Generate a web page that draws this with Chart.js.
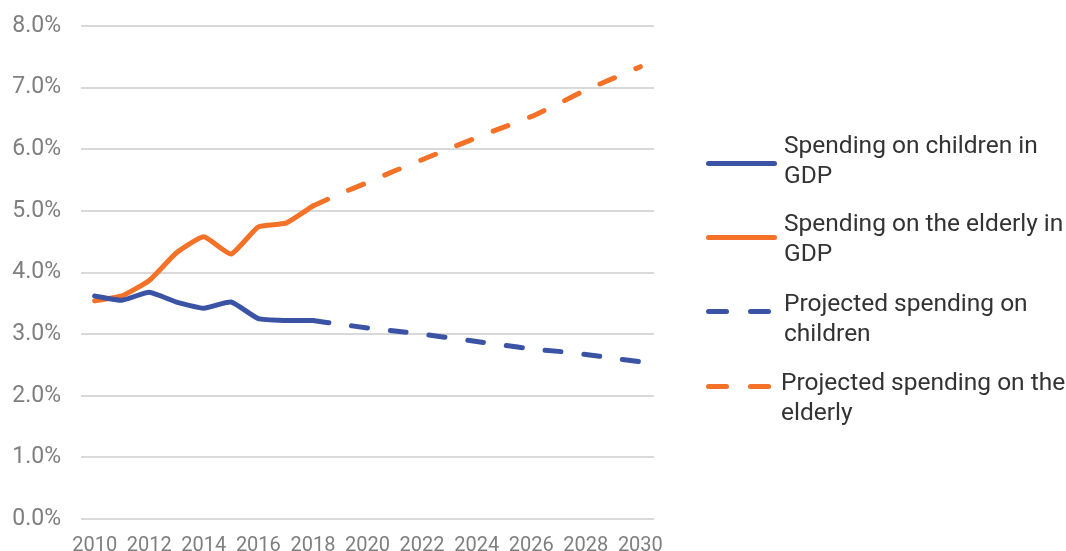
<!DOCTYPE html>
<html>
<head>
<meta charset="utf-8">
<script src="https://cdn.jsdelivr.net/npm/chart.js@4"></script>
<style>
  html, body { margin: 0; padding: 0; background: #fff; overflow: hidden; }
  body { width: 1066px; height: 551px; position: relative; font-family: Roboto, "Noto Sans", sans-serif; }
  #chart { position: absolute; left: 0; top: 0; display: block; }
  .swatch { position: absolute; height: 5px; border-radius: 3px; }
  .txt { position: absolute; font-size: 24.5px; line-height: 30px; color: #333333; white-space: nowrap; }
</style>
</head>
<body>
<canvas id="chart" width="1066" height="580"></canvas>
<div id="legend"></div>
<script>
const years = ["2010","2011","2012","2013","2014","2015","2016","2017","2018","2019","2020",
  "2021","2022","2023","2024","2025","2026","2027","2028","2029","2030"];
// 2010-2018
const childrenActual = [3.62, 3.55, 3.68, 3.52, 3.42, 3.52, 3.25, 3.22, 3.22];
const elderlyActual  = [3.54, 3.62, 3.87, 4.32, 4.58, 4.30, 4.74, 4.80, 5.08];
// 2018-2030
const childrenProjected = [3.22, 3.16, 3.10, 3.05, 3.00, 2.94, 2.88, 2.82, 2.76, 2.72, 2.67, 2.61, 2.55];
const elderlyProjected  = [5.08, 5.28, 5.46, 5.65, 5.83, 6.01, 6.19, 6.36, 6.53, 6.74, 6.96, 7.15, 7.34];
const yTicks = ["0.0%","1.0%","2.0%","3.0%","4.0%","5.0%","6.0%","7.0%","8.0%"];

const seriesNames = [
  ["Spending on children in", "GDP"],
  ["Spending on the elderly in", "GDP"],
  ["Projected spending on", "children"],
  ["Projected spending on the", "elderly"]
];

const BLUE = "#3b53a4";
const ORANGE = "#f47128";

const projStart = childrenActual.length - 1;
const pad = (arr, before) => {
  const out = new Array(years.length).fill(null);
  arr.forEach((v, i) => { out[before + i] = v; });
  return out;
};

const common = { pointRadius: 0, borderWidth: 5, fill: false, tension: 0.15,
  borderCapStyle: "round", borderJoinStyle: "round", spanGaps: false };

const ctx = document.getElementById("chart").getContext("2d");
new Chart(ctx, {
  type: "line",
  data: {
    labels: years,
    datasets: [
      { ...common, label: seriesNames[0].join(" "), data: pad(childrenActual, 0), borderColor: BLUE },
      { ...common, label: seriesNames[1].join(" "), data: pad(elderlyActual, 0), borderColor: ORANGE },
      { ...common, label: seriesNames[2].join(" "), data: pad(childrenProjected, projStart), borderColor: BLUE, borderDash: [16, 23] },
      { ...common, label: seriesNames[3].join(" "), data: pad(elderlyProjected, projStart), borderColor: ORANGE, borderDash: [16, 23] }
    ]
  },
  options: {
    responsive: false,
    maintainAspectRatio: false,
    animation: false,
    devicePixelRatio: 1,
    layout: { padding: { top: 26, right: 412, bottom: 7, left: 0 } },
    plugins: { legend: { display: false }, tooltip: { enabled: false } },
    scales: {
      x: {
        offset: true,
        grid: { display: false, drawTicks: false },
        border: { display: false },
        ticks: {
          autoSkip: false, maxRotation: 0, padding: 15,
          color: "#7f7f7f", font: { family: "Roboto", size: 20 },
          callback: (v, i) => (i % 2 === 0 ? years[i] : "")
        }
      },
      y: {
        min: 0, max: 8,
        afterFit: (scale) => {
          scale.width = 81;
          scale.paddingTop = 0;
          scale.paddingBottom = 0;
        },
        grid: { color: "#d9d9d9", lineWidth: 2, drawTicks: false },
        border: { display: false },
        ticks: {
          stepSize: 1, padding: 20,
          color: "#7f7f7f", font: { family: "Roboto", size: 23 },
          callback: (v) => yTicks[Math.round(v)]
        }
      }
    }
  }
});

// legend on the right
const legendEl = document.getElementById("legend");
const legendRows = [
  { color: BLUE, dashed: false, lineY: 163, textY: 130, textX: 784 },
  { color: ORANGE, dashed: false, lineY: 237, textY: 208, textX: 784 },
  { color: BLUE, dashed: true, lineY: 311, textY: 288, textX: 784 },
  { color: ORANGE, dashed: true, lineY: 386, textY: 367, textX: 781 }
];
legendRows.forEach((r, i) => {
  const segs = r.dashed ? [[706, 23], [748, 23]] : [[706, 71]];
  segs.forEach(([x, w]) => {
    const s = document.createElement("div");
    s.className = "swatch";
    s.style.left = x + "px";
    s.style.width = w + "px";
    s.style.top = (r.lineY - 2.5) + "px";
    s.style.background = r.color;
    legendEl.appendChild(s);
  });
  const t = document.createElement("div");
  t.className = "txt";
  t.style.left = r.textX + "px";
  t.style.top = r.textY + "px";
  t.innerHTML = seriesNames[i].join("<br>");
  legendEl.appendChild(t);
});
</script>
</body>
</html>
